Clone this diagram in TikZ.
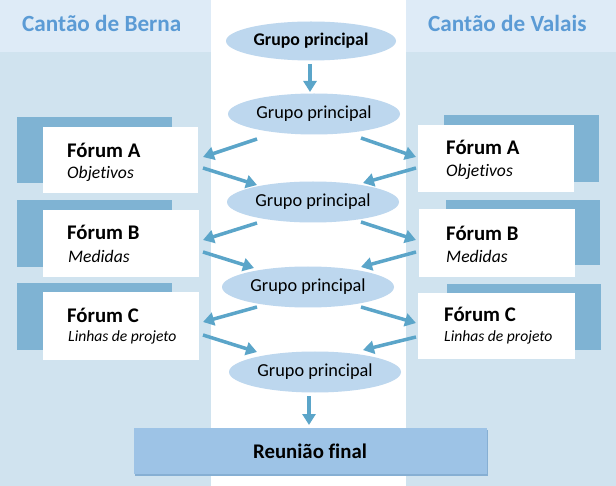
\documentclass[tikz,border=0pt]{standalone}
\usepackage{fontspec}
\setmainfont{Carlito}[Ligatures=NoCommon]
\usetikzlibrary{shapes.geometric,arrows.meta}
\definecolor{panel}{HTML}{D0E3EF}
\definecolor{panelhead}{HTML}{DEEBF7}
\definecolor{headtxt}{HTML}{5B9BD5}
\definecolor{darkrect}{HTML}{7FB3D3}
\definecolor{ellfill}{HTML}{BDD7EE}
\definecolor{arrowc}{HTML}{5BA5C9}
\definecolor{finalfill}{HTML}{9DC3E6}
\definecolor{finalshadow}{HTML}{86AFD3}
\tikzset{
  grp/.style={ellipse, fill=ellfill, inner sep=0pt, minimum width=172pt, minimum height=41pt, font=\fontsize{18.3}{21}\selectfont},
  wbox/.style={rectangle, fill=white, inner sep=0pt},
  ftitle/.style={anchor=base west, inner sep=0pt, font=\fontsize{20.8}{24}\selectfont\bfseries},
  fsub/.style={anchor=base west, inner sep=0pt, font=\fontsize{17.6}{20}\selectfont\itshape},
  fsubs/.style={anchor=base west, inner sep=0pt, font=\fontsize{15.6}{18}\selectfont\itshape},
  head/.style={anchor=base west, inner sep=0pt, text=headtxt, font=\fontsize{23.2}{27}\selectfont\bfseries},
  arr/.style={draw=arrowc, line width=3.5pt, -{Triangle[length=11pt,width=13pt]}},
}
\begin{document}
\begin{tikzpicture}[x=1pt,y=-1pt]
\useasboundingbox (0,0) rectangle (616,486);
\fill[white] (0,0) rectangle (616,486);
% panels
\fill[panel] (0,52) rectangle (211,486);
\fill[panelhead] (0,0) rectangle (211,52);
\fill[panel] (406,52) rectangle (616,486);
\fill[panelhead] (406,0) rectangle (616,52);
\node[head] (hB) at (22,32) {Cantão de Berna};
\node[head] (hV) at (428,32) {Cantão de Valais};
% ellipses
\node[grp, font=\fontsize{17.8}{20}\selectfont\bfseries, minimum width=170pt, minimum height=39pt] (e1) at (311,41) {Grupo principal};
\node[grp] (e2) at (314,114) {Grupo principal};
\node[grp] (e3) at (313,202) {Grupo principal};
\node[grp] (e4) at (308,287) {Grupo principal};
\node[grp] (e5) at (315,372) {Grupo principal};
% left forum boxes
\fill[darkrect] (17,117) rectangle (172,183);
\node[wbox, minimum width=155pt, minimum height=66pt] (fAL) at (120,160) {};
\fill[darkrect] (17,200) rectangle (172,267);
\node[wbox, minimum width=156pt, minimum height=67pt] (fBL) at (121,243.5) {};
\fill[darkrect] (17,283) rectangle (172,350);
\node[wbox, minimum width=156pt, minimum height=68pt] (fCL) at (121,326) {};
\node[ftitle] (tAL) at (67,158) {Fórum A};
\node[fsub] (sAL) at (67,179) {Objetivos};
\node[ftitle] (tBL) at (67,240) {Fórum B};
\node[fsub] (sBL) at (68,263) {Medidas};
\node[ftitle] (tCL) at (67,323) {Fórum C};
\node[fsubs] (sCL) at (68,342) {Linhas de projeto};
% right forum boxes
\fill[darkrect] (444,115) rectangle (599,182);
\node[wbox, minimum width=156pt, minimum height=67pt] (fAR) at (496,158.5) {};
\fill[darkrect] (446,200) rectangle (600,265);
\node[wbox, minimum width=156pt, minimum height=68pt] (fBR) at (497,243) {};
\fill[darkrect] (447,284) rectangle (601,350);
\node[wbox, minimum width=157pt, minimum height=66pt] (fCR) at (496.5,326) {};
\node[ftitle] (tAR) at (446,155) {Fórum A};
\node[fsub] (sAR) at (446,177) {Objetivos};
\node[ftitle] (tBR) at (446,241) {Fórum B};
\node[fsub] (sBR) at (446,263) {Medidas};
\node[ftitle] (tCR) at (444,322) {Fórum C};
\node[fsubs] (sCR) at (444,342) {Linhas de projeto};
% final
\fill[finalshadow] (135,430) rectangle (488,476);
\node[rectangle, fill=finalfill, minimum width=353pt, minimum height=46pt, inner sep=0pt, font=\fontsize{20.8}{24}\selectfont\bfseries] (fin) at (310,451) {Reunião final};
% arrow coordinates
\coordinate (d1s) at (310,64); \coordinate (d1e) at (310,92);
\coordinate (d2s) at (309,396); \coordinate (d2e) at (309,425);
\coordinate (l1s) at (257,139); \coordinate (l1e) at (203,157);
\coordinate (l2s) at (203,168); \coordinate (l2e) at (257,185);
\coordinate (l3s) at (257,223); \coordinate (l3e) at (203,240);
\coordinate (l4s) at (203,252); \coordinate (l4e) at (254,268);
\coordinate (l5s) at (257,307); \coordinate (l5e) at (203,322);
\coordinate (l6s) at (203,335); \coordinate (l6e) at (257,352);
\coordinate (r1s) at (361,138); \coordinate (r1e) at (416,157);
\coordinate (r2s) at (416,168); \coordinate (r2e) at (363,183);
\coordinate (r3s) at (361,222); \coordinate (r3e) at (416,240);
\coordinate (r4s) at (416,252); \coordinate (r4e) at (361,267);
\coordinate (r5s) at (361,307); \coordinate (r5e) at (416,323);
\coordinate (r6s) at (416,337); \coordinate (r6e) at (363,350);
\foreach \a in {d1,d2,l1,l2,l3,l4,l5,l6,r1,r2,r3,r4,r5,r6}
  \draw[arr] (\a s) -- (\a e);
\end{tikzpicture}
\end{document}
